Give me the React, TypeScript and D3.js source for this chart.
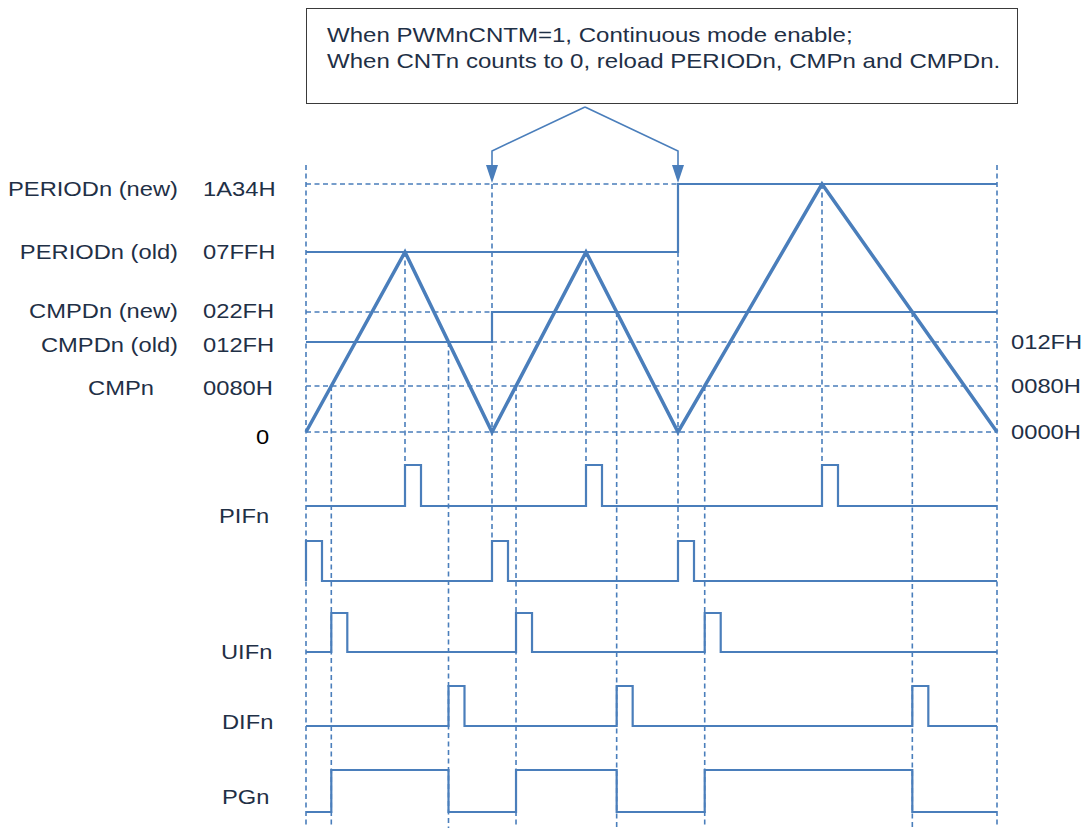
import React from "react";
import * as d3 from "d3";

// ---------- data ----------
const CNT_TIMES = [0, 99, 186, 280, 372, 516, 691];
const CNT_VALUES = [0, 0x7ff, 0, 0x7ff, 0, 0x1a34, 0];

const LEVEL_VALUES = [0x1a34, 0x7ff, 0x22f, 0x12f, 0x80, 0];
const LEVEL_NAMES = ["PERIODn (new)", "PERIODn (old)", "CMPDn (new)", "CMPDn (old)", "CMPn", ""];
const LEVEL_HEX = ["1A34H", "07FFH", "022FH", "012FH", "0080H", "0"];
const RIGHT_VALUES = [0x12f, 0x80, 0];
const RIGHT_HEX = ["012FH", "0080H", "0000H"];

const CMPN = 0x80;
const CMPD_PER_CYCLE = [0x12f, 0x22f, 0x22f];
const PERIOD_RELOAD_TIME = 372; // PERIODn new loaded at this zero
const CMPD_RELOAD_TIME = 186; // CMPDn new loaded at this zero
const PULSE_WIDTH = 16;

const SIGNAL_NAMES = ["PIFn", "UIFn", "DIFn", "PGn"];
const NOTE_LINES = [
  "When PWMnCNTM=1, Continuous mode enable;",
  "When CNTn counts to 0, reload PERIODn, CMPn and CMPDn.",
];

// ---------- layout ----------
const BLUE = "#4a7ebb";
const TEXT = "#1f3046";
const HS = 1.13; // horizontal text stretch
const FS = 21;

const x = d3.scaleLinear().domain([0, 691]).range([306, 997]);
const y = d3
  .scaleLinear()
  .domain([0, 0x80, 0x12f, 0x22f, 0x7ff, 0x1a34])
  .range([432, 386, 342, 312, 252, 184]);

// rows: [base, high]
const ROW_PIF_PEAK = [506, 465];
const ROW_PIF_ZERO = [581, 541];
const ROW_UIF = [652, 613];
const ROW_DIF = [726, 686];
const ROW_PG = [812, 770];
const LABEL_DY = [12, 7, 6, 10, 9, 12];
const SIGNAL_LABEL_Y = [523, 659, 729, 804];
const SIGNAL_LABEL_X = [219, 221, 222, 222];

// compute crossing time in pixel space of segment i at level value
function crossing(i: number, level: number): number {
  const x0 = x(CNT_TIMES[i]), y0 = y(CNT_VALUES[i]);
  const x1 = x(CNT_TIMES[i + 1]), y1 = y(CNT_VALUES[i + 1]);
  const yl = y(level);
  const f = (yl - y0) / (y1 - y0);
  return x.invert(x0 + f * (x1 - x0));
}

const zeros = CNT_TIMES.filter((_, i) => CNT_VALUES[i] === 0 && i < CNT_TIMES.length - 1);
const peaks = CNT_TIMES.filter((_, i) => CNT_VALUES[i] !== 0);
const upCross = [0, 2, 4].map((i) => crossing(i, CMPN));
const downCross = [1, 3, 5].map((i, k) => crossing(i, CMPD_PER_CYCLE[k]));

function pulsePath(starts: number[], base: number, high: number): string {
  const p = d3.path();
  p.moveTo(x(0), base);
  starts.forEach((s) => {
    p.lineTo(x(s), base);
    p.lineTo(x(s), high);
    p.lineTo(x(s + PULSE_WIDTH), high);
    p.lineTo(x(s + PULSE_WIDTH), base);
  });
  p.lineTo(x(691), base);
  return p.toString();
}

function pgPath(): string {
  const [low, high] = ROW_PG;
  const p = d3.path();
  p.moveTo(x(0), low);
  upCross.forEach((u, k) => {
    p.lineTo(x(u), low);
    p.lineTo(x(u), high);
    p.lineTo(x(downCross[k]), high);
    p.lineTo(x(downCross[k]), low);
  });
  p.lineTo(x(691), low);
  return p.toString();
}

const triLine = d3
  .line<number>()
  .x((_, i) => x(CNT_TIMES[i]))
  .y((v) => y(v));

const dashProps = { stroke: BLUE, strokeWidth: 1.6, strokeDasharray: "5 3.5", fill: "none" };
const solidProps = { stroke: BLUE, strokeWidth: 2.2, fill: "none" };

function T({ x: tx, y: ty, anchor, children, color, hs }: any) {
  return (
    <g transform={`translate(${tx},${ty}) scale(${hs || HS},1)`}>
      <text
        textAnchor={anchor || "start"}
        fontFamily="'Liberation Sans', Arial, sans-serif"
        fontSize={FS}
        fill={color || TEXT}
      >
        {children}
      </text>
    </g>
  );
}

export default function App() {
  const x0 = x(0), xEnd = x(691);
  const verticals: { t: number; top: number; bottom: number }[] = [
    { t: 0, top: 165, bottom: 828 },
    { t: 691, top: 165, bottom: 828 },
    ...peaks.map((t) => ({ t, top: y(CNT_VALUES[CNT_TIMES.indexOf(t)]), bottom: ROW_PIF_PEAK[1] })),
    ...zeros.slice(1).map((t) => ({ t, top: y(0x1a34), bottom: ROW_PIF_ZERO[1] })),
    ...upCross.map((t) => ({ t, top: y(CMPN), bottom: 828 })),
    ...downCross.map((t, k) => ({ t, top: y(CMPD_PER_CYCLE[k]), bottom: 828 })),
  ];
  const apex = { x: 585, y: 107 };
  return (
    <svg width={1083} height={828} style={{ position: "absolute", left: 0, top: 0, background: "#fff" }}>
      {/* note box */}
      <rect x={306.5} y={8.5} width={711} height={95} fill="#fff" stroke="#3a3a3a" strokeWidth={1} />
      {NOTE_LINES.map((l, i) => (
        <T key={i} x={327} y={42 + i * 26} hs={1.145}>
          {l}
        </T>
      ))}
      {/* arrows */}
      {zeros.slice(1).map((t, i) => (
        <g key={i}>
          <polyline
            points={`${apex.x},${apex.y} ${x(t)},151 ${x(t)},168`}
            fill="none"
            stroke={BLUE}
            strokeWidth={1.6}
          />
          <polygon points={`${x(t) - 6},165 ${x(t) + 6},165 ${x(t)},183`} fill={BLUE} />
        </g>
      ))}

      {/* vertical dashed lines */}
      {verticals.map((v, i) => (
        <line key={i} x1={x(v.t)} x2={x(v.t)} y1={v.top} y2={v.bottom} {...dashProps} />
      ))}

      {/* horizontal level lines */}
      <line x1={x0} x2={x(PERIOD_RELOAD_TIME)} y1={y(0x1a34)} y2={y(0x1a34)} {...dashProps} />
      <path
        d={`M${x0},${y(0x7ff)}H${x(PERIOD_RELOAD_TIME)}V${y(0x1a34)}H${xEnd}`}
        {...solidProps}
      />
      <line x1={x0} x2={x(CMPD_RELOAD_TIME)} y1={y(0x22f)} y2={y(0x22f)} {...dashProps} />
      <path
        d={`M${x0},${y(0x12f)}H${x(CMPD_RELOAD_TIME)}V${y(0x22f)}H${xEnd}`}
        {...solidProps}
      />
      <line x1={x(CMPD_RELOAD_TIME)} x2={xEnd} y1={y(0x12f)} y2={y(0x12f)} {...dashProps} />
      <line x1={x0} x2={xEnd} y1={y(CMPN)} y2={y(CMPN)} {...dashProps} />
      <line x1={x0} x2={xEnd} y1={y(0)} y2={y(0)} {...dashProps} />

      {/* triangle counter */}
      <path d={triLine(CNT_VALUES) || ""} fill="none" stroke={BLUE} strokeWidth={3.5} strokeLinejoin="miter" />

      {/* signals */}
      <path d={pulsePath(peaks, ROW_PIF_PEAK[0], ROW_PIF_PEAK[1])} {...solidProps} />
      <path d={pulsePath(zeros, ROW_PIF_ZERO[0], ROW_PIF_ZERO[1])} {...solidProps} />
      <path d={pulsePath(upCross, ROW_UIF[0], ROW_UIF[1])} {...solidProps} />
      <path d={pulsePath(downCross, ROW_DIF[0], ROW_DIF[1])} {...solidProps} />
      <path d={pgPath()} {...solidProps} />

      {/* left labels */}
      {LEVEL_VALUES.map((v, i) => (
        <g key={i}>
          {LEVEL_NAMES[i] && (
            <T x={LEVEL_NAMES[i] === "CMPn" ? 154 : 178} y={y(v) + LABEL_DY[i]} anchor="end">
              {LEVEL_NAMES[i]}
            </T>
          )}
          <T
            x={LEVEL_HEX[i] === "0" ? 256 : 203}
            y={y(v) + LABEL_DY[i]}
            color={LEVEL_HEX[i] === "0" ? "#000" : TEXT}
          >
            {LEVEL_HEX[i]}
          </T>
        </g>
      ))}
      {/* right labels */}
      {RIGHT_VALUES.map((v, i) => (
        <T key={i} x={1011} y={y(v) + 6.5}>
          {RIGHT_HEX[i]}
        </T>
      ))}
      {/* signal labels */}
      {SIGNAL_NAMES.map((n, i) => (
        <T key={n} x={SIGNAL_LABEL_X[i]} y={SIGNAL_LABEL_Y[i]}>
          {n}
        </T>
      ))}
    </svg>
  );
}
